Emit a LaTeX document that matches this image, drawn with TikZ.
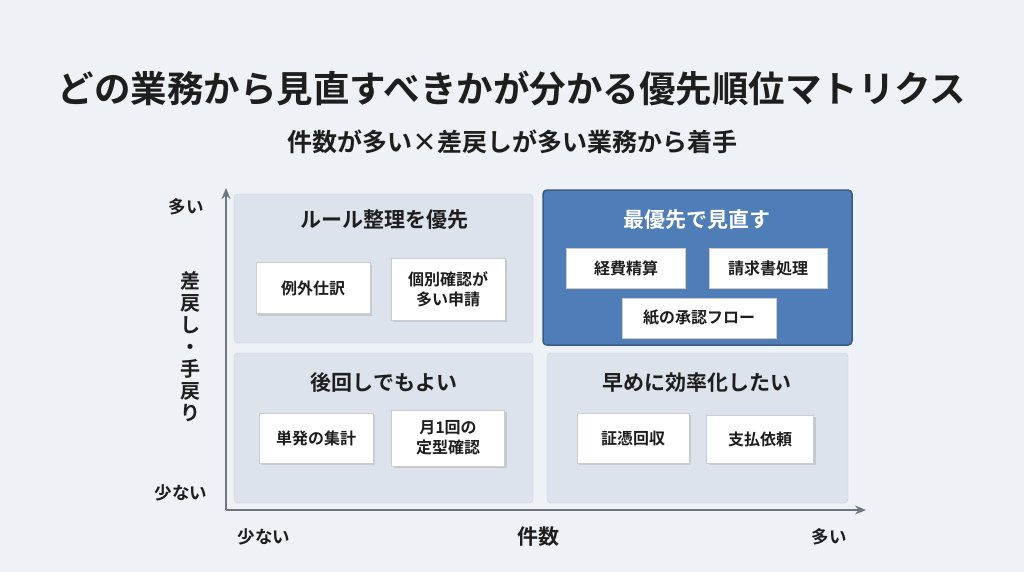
\documentclass[tikz,border=0pt]{standalone}
\usepackage{fontspec}
\setmainfont{Noto Sans CJK JP}[BoldFont={Noto Sans CJK JP Bold}]
\usetikzlibrary{arrows.meta,shadows}
\definecolor{bg}{HTML}{EEF1F5}
\definecolor{quad}{HTML}{DDE3EC}
\definecolor{blueq}{HTML}{4F7DB8}
\definecolor{ink}{HTML}{1E1E1E}
\definecolor{axis}{HTML}{707680}
\tikzset{
  quadbox/.style={fill=quad,draw=quad!80!gray,rounded corners=4pt},
  qtitle/.style={font=\bfseries\fontsize{21}{23}\selectfont,text=ink},
  card/.style={fill=white,draw=gray!40,drop shadow={opacity=0.25,shadow xshift=2pt,shadow yshift=-2pt},font=\bfseries\fontsize{16}{20}\selectfont,text=ink,align=center},
  axlab/.style={font=\bfseries\fontsize{17.5}{19}\selectfont,text=ink},
}
\begin{document}
\begin{tikzpicture}[x=1pt,y=-1pt]
\fill[bg] (0,0) rectangle (1024,572);
\useasboundingbox (0,0) rectangle (1024,572);
\node[font=\bfseries\fontsize{36.5}{40}\selectfont,text=ink] (title) at (512,88) {どの業務から見直すべきかが分かる優先順位マトリクス};
\node[font=\bfseries\fontsize{25}{28}\selectfont,text=ink] (sub) at (512,142) {件数が多い×差戻しが多い業務から着手};
% quadrants
\draw[quadbox] (234,194) rectangle (533,343);
\draw[fill=blueq,draw=blueq!60!black!70!blueq,line width=1.5pt,rounded corners=4pt] (543,190) rectangle (852,345);
\draw[quadbox] (234,353) rectangle (533,503);
\draw[quadbox] (547,353) rectangle (848,503);
\node[qtitle] (q1) at (384,220) {ルール整理を優先};
\node[qtitle,text=white] (q2) at (697,220) {最優先で見直す};
\node[qtitle] (q3) at (384,383) {後回しでもよい};
\node[qtitle] (q4) at (697,383) {早めに効率化したい};
% cards
\newcommand{\crd}[5]{\node[card,minimum width=#3pt,minimum height=#4pt] at (#1,#2) {#5};}
\crd{313}{288}{114}{51}{例外仕訳}
\crd{448}{289}{114}{62}{個別確認が\\多い申請}
\crd{626}{268}{119}{40}{経費精算}
\crd{768}{268}{118}{40}{請求書処理}
\crd{699}{318}{154}{40}{紙の承認フロー}
\crd{316}{438}{114}{50}{単発の集計}
\crd{448}{438}{113}{56}{月1回の\\定型確認}
\crd{633}{438}{112}{50}{証憑回収}
\crd{760}{439}{107}{48}{支払依頼}
% axes
\coordinate (o) at (226,510);
\coordinate (ytop) at (226,188);
\coordinate (xend) at (866,510);
\draw[axis,line width=1.6pt,-{Stealth[length=11pt,width=9pt]}] (o) -- (ytop);
\draw[axis,line width=1.6pt,-{Stealth[length=11pt,width=9pt]}] (o) -- (xend);
\node[axlab] (ymax) at (186,207) {多い};
\node[axlab] (ymin) at (181,493) {少ない};
\node[axlab,font=\bfseries\fontsize{20}{22}\selectfont,align=center] (ylab) at (190,347) {差\\戻\\し\\・\\手\\戻\\り};
\node[axlab] (xmin) at (264,537) {少ない};
\node[axlab,font=\bfseries\fontsize{21}{23}\selectfont] (xlab) at (538,537) {件数};
\node[axlab] (xmax) at (829,537) {多い};
\end{tikzpicture}
\end{document}
